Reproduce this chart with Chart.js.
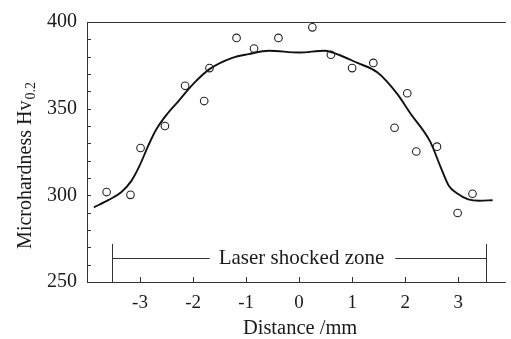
<!DOCTYPE html>
<html><head><meta charset="utf-8">
<script src="https://cdn.jsdelivr.net/npm/chart.js@4.4.0/dist/chart.umd.min.js"></script>
<style>html,body{margin:0;padding:0;background:#fff}#c{display:block}</style>
</head><body>
<canvas id="c" width="511" height="339"></canvas>
<script>
// Measured points
const pointX = [-3.63,-3.18,-2.99,-2.53,-2.15,-1.79,-1.69,-1.18,-0.85,-0.39,0.25,0.60,1.00,1.40,2.04,1.80,2.21,2.60,3.27,2.99];
const pointY = [301.9,300.3,327.3,340.0,363.2,354.4,373.4,390.8,384.7,390.8,396.9,381.1,373.4,376.4,358.9,339.0,325.3,328.1,300.9,289.8];
// Fitted curve
const curveX = [-3.87,-3.60,-3.35,-3.16,-3.01,-2.85,-2.70,-2.48,-2.29,-2.15,-1.95,-1.69,-1.26,-0.95,-0.57,0.00,0.48,0.60,1.10,1.48,1.85,2.10,2.47,2.66,2.82,2.97,3.19,3.40,3.65];
const curveY = [293.1,297.2,301.9,308.5,317.0,328.3,337.7,347.2,353.8,358.9,365.7,372.8,379.3,381.5,383.4,382.4,383.4,382.7,376.4,370.8,358.5,347.2,331.1,317.0,305.7,301.3,297.7,296.9,297.2];
// Axis ticks
const xTicks = [-3,-2,-1,0,1,2,3];
const yTickLabels = [250,300,350,400];
const yMinorTicks = [260,270,280,290,300,310,320,330,340,350,360,370,380,390];
// Laser shocked zone annotation
const zoneStart = -3.53, zoneEnd = 3.53, zoneLevel = 263.6, zoneBarTop = 272;
const zoneLabel = 'Laser shocked zone';
const xTitle = 'Distance /mm';
const yTitleMain = 'Microhardness Hv';
const yTitleSub = '0.2';

const serif = '"Liberation Serif", "DejaVu Serif", serif';
const ink = '#1a1a1a';

const decor = {
  id: 'decor',
  afterDraw(chart) {
    const ctx = chart.ctx, a = chart.chartArea;
    const xs = chart.scales.x, ys = chart.scales.y;
    ctx.save();
    ctx.strokeStyle = '#333'; ctx.lineWidth = 1;
    ctx.beginPath();
    ctx.moveTo(a.left + 0.5, a.top + 0.5); ctx.lineTo(a.left + 0.5, a.bottom + 0.5);
    ctx.moveTo(a.left, a.top + 0.5); ctx.lineTo(a.right, a.top + 0.5);
    ctx.moveTo(a.left, a.bottom + 0.5); ctx.lineTo(a.right, a.bottom + 0.5);
    yMinorTicks.forEach(v => { const p = Math.round(ys.getPixelForValue(v)) + 0.5; ctx.moveTo(a.left, p); ctx.lineTo(a.left + 4, p); });
    xTicks.forEach(v => { const p = Math.round(xs.getPixelForValue(v)) + 0.5; ctx.moveTo(p, a.bottom); ctx.lineTo(p, a.bottom - 5); });
    ctx.stroke();
    const x1 = Math.round(xs.getPixelForValue(zoneStart)) + 0.5, x2 = Math.round(xs.getPixelForValue(zoneEnd)) + 0.5;
    const yl = Math.round(ys.getPixelForValue(zoneLevel)) + 0.5, yt = ys.getPixelForValue(zoneBarTop);
    ctx.font = '21px ' + serif;
    const tw = ctx.measureText(zoneLabel).width;
    const cx = (x1 + x2) / 2 + 2;
    ctx.beginPath();
    ctx.moveTo(x1, yt); ctx.lineTo(x1, a.bottom);
    ctx.moveTo(x2, yt); ctx.lineTo(x2, a.bottom);
    ctx.moveTo(x1, yl); ctx.lineTo(cx - tw / 2 - 9, yl);
    ctx.moveTo(cx + tw / 2 + 11, yl); ctx.lineTo(x2, yl);
    ctx.stroke();
    ctx.fillStyle = ink; ctx.textAlign = 'center'; ctx.textBaseline = 'middle';
    ctx.fillText(zoneLabel, cx, yl);
    ctx.font = '20.5px ' + serif;
    ctx.fillText(xTitle, xs.getPixelForValue(0) + 1, 329);
    ctx.translate(25, 166);
    ctx.rotate(-Math.PI / 2);
    ctx.font = '20px ' + serif;
    const mw = ctx.measureText(yTitleMain).width;
    ctx.font = '14px ' + serif;
    const sw = ctx.measureText(yTitleSub).width;
    const start = -(mw + sw) / 2;
    ctx.textAlign = 'left'; ctx.textBaseline = 'alphabetic';
    ctx.font = '20px ' + serif;
    ctx.fillText(yTitleMain, start, 6);
    ctx.font = '14px ' + serif;
    ctx.fillText(yTitleSub, start + mw + 1, 10);
    ctx.restore();
  }
};

new Chart(document.getElementById('c'), {
  data: {
    datasets: [
      { type: 'scatter', data: pointX.map((x, i) => ({ x, y: pointY[i] })), pointStyle: 'circle', pointRadius: 3.8,
        pointBorderWidth: 1.1, pointBorderColor: '#222', pointBackgroundColor: 'rgba(0,0,0,0)', showLine: false, order: 1 },
      { type: 'line', data: curveX.map((x, i) => ({ x, y: curveY[i] })), borderColor: '#111', borderWidth: 1.9,
        pointRadius: 0, cubicInterpolationMode: 'monotone', fill: false, order: 2 }
    ]
  },
  options: {
    responsive: false, animation: false, devicePixelRatio: 1,
    layout: { padding: { top: 17, right: 0, left: 0, bottom: 0 } },
    plugins: { legend: { display: false }, tooltip: { enabled: false } },
    scales: {
      x: {
        type: 'linear', min: -4, max: 3.9,
        afterFit(s) { s.height = 57; },
        afterBuildTicks(s) { s.ticks = xTicks.map(v => ({ value: v })); },
        grid: { display: false, drawTicks: false }, border: { display: false },
        ticks: { font: { family: serif, size: 19 }, color: ink, padding: 10, maxRotation: 0, autoSkip: false,
          callback: v => String(v) }
      },
      y: {
        min: 250, max: 400,
        afterFit(s) { s.width = 87; },
        afterBuildTicks(s) { s.ticks = yTickLabels.map(v => ({ value: v })); },
        grid: { display: false, drawTicks: false }, border: { display: false },
        ticks: { font: { family: serif, size: 20 }, color: ink, padding: 10, callback: v => String(v) }
      }
    }
  },
  plugins: [decor]
});
</script>
</body></html>
